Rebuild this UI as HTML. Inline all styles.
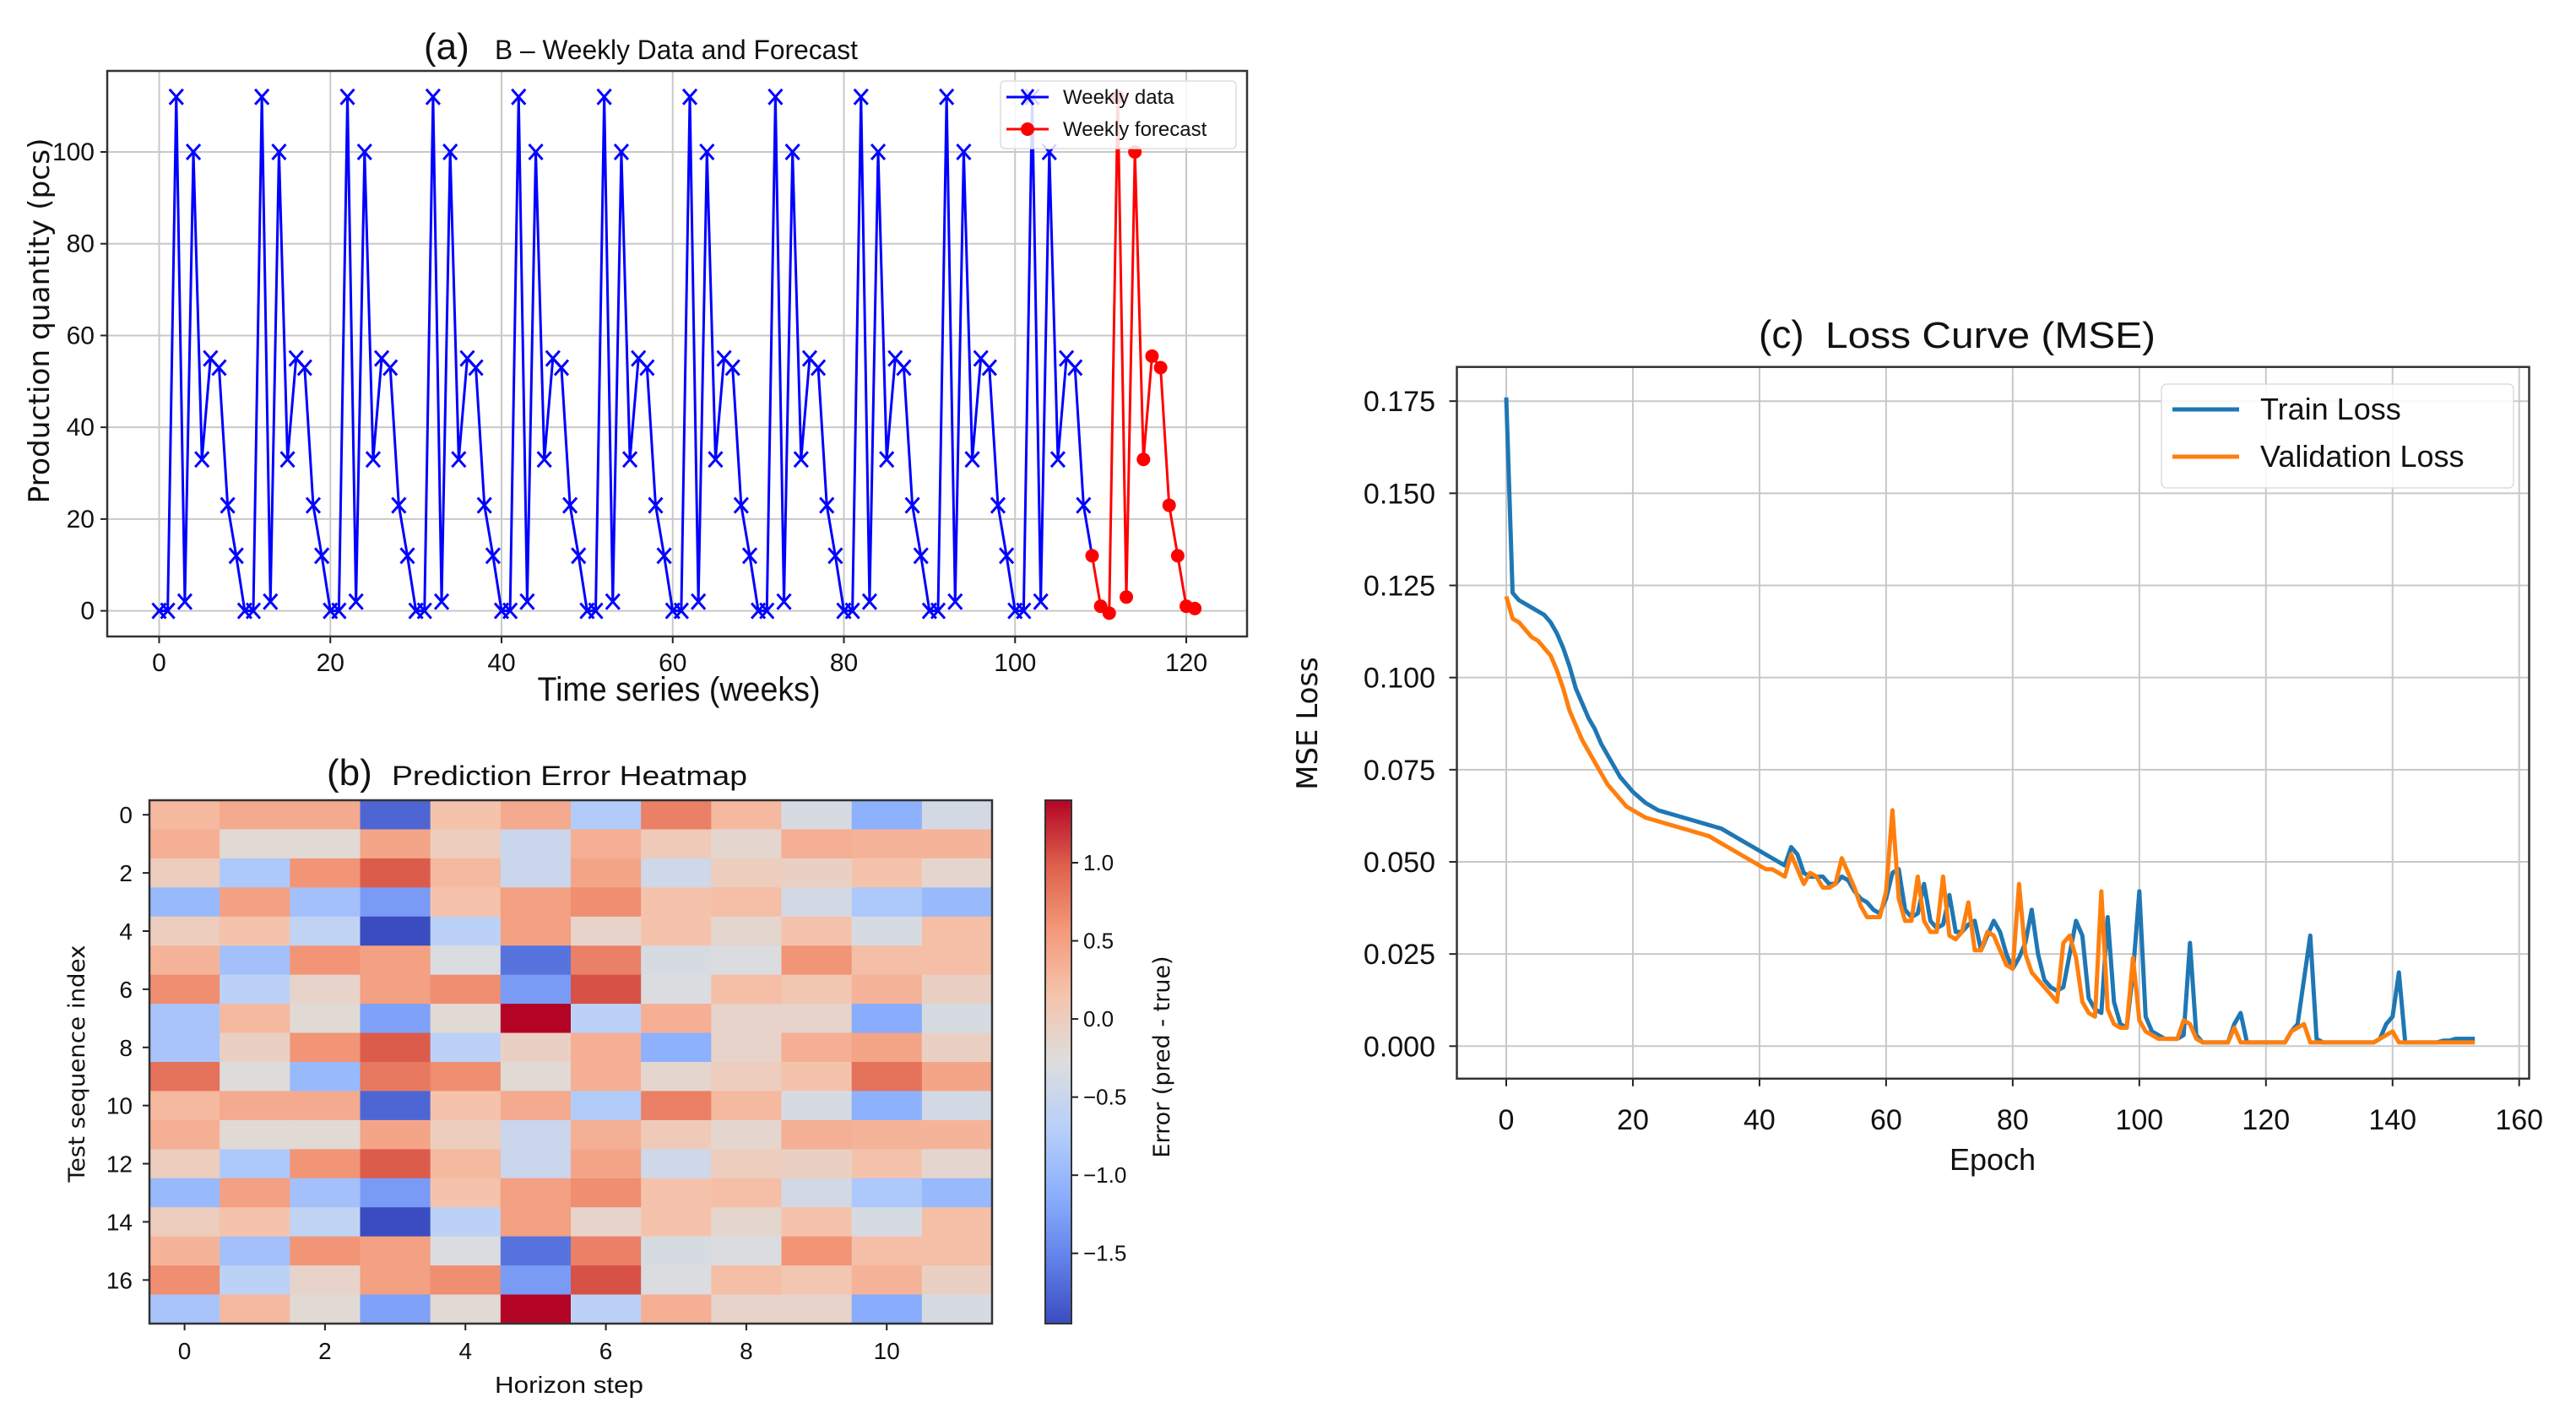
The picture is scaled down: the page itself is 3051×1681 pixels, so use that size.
<!DOCTYPE html>
<html><head><meta charset="utf-8">
<style>
html,body{margin:0;padding:0;background:#fff;}
svg{display:block;}
text{font-family:"Liberation Sans Narrow","Liberation Sans",sans-serif;fill:#111;}
</style></head>
<body>
<svg id="fig" width="3051" height="1681" viewBox="0 0 3051 1681" xmlns="http://www.w3.org/2000/svg">
<rect width="3051" height="1681" fill="#fff"/>
</svg>
<script>
// ---------- Panel (a) data ----------
const weeklyWeeks = [];
const weeklyValues = [0,0,112,2,100,33,55,53,23,12, 0,0,112,2,100,33,55,53,23,12, 0,0,112,2,100,33,55,53,23,12, 0,0,112,2,100,33,55,53,23,12, 0,0,112,2,100,33,55,53,23,12, 0,0,112,2,100,33,55,53,23,12, 0,0,112,2,100,33,55,53,23,12, 0,0,112,2,100,33,55,53,23,12, 0,0,112,2,100,33,55,53,23,12, 0,0,112,2,100,33,55,53,23,12, 0,0,112,2,100,33,55,53,23];
const forecastWeeks = [109,110,111,112,113,114,115,116,117,118,119,120,121];
const forecastValues = [12,1,-0.5,112,3,100,33,55.5,53,23,12,1,0.5];
const aXTicks = [0,20,40,60,80,100,120];
const aYTicks = [0,20,40,60,80,100];
// ---------- Panel (b) data ----------
const horizonSteps = [0,1,2,3,4,5,6,7,8,9,10,11];
const errorRows = [
[0.25,0.4,0.4,-1.75,0.15,0.4,-0.75,0.75,0.25,-0.35,-1.1,-0.4],
[0.35,-0.2,-0.2,0.45,0.0,-0.5,0.35,0.05,-0.15,0.35,0.3,0.3],
[0.0,-0.8,0.6,1.0,0.25,-0.5,0.45,-0.45,0.0,-0.05,0.15,-0.15],
[-1.0,0.5,-0.9,-1.3,0.15,0.5,0.65,0.15,0.2,-0.4,-0.8,-1.0],
[0.0,0.15,-0.6,-1.95,-0.65,0.5,-0.1,0.15,-0.15,0.15,-0.35,0.2],
[0.3,-0.9,0.6,0.5,-0.3,-1.65,0.75,-0.35,-0.3,0.6,0.2,0.2],
[0.65,-0.65,-0.1,0.5,0.65,-1.3,1.05,-0.3,0.2,0.1,0.3,-0.05],
[-0.85,0.25,-0.2,-1.25,-0.2,1.4,-0.65,0.35,-0.1,-0.1,-1.15,-0.35],
[-0.85,-0.05,0.6,1.0,-0.65,-0.05,0.35,-1.1,-0.1,0.35,0.45,-0.05],
[0.85,-0.25,-1.0,0.8,0.65,-0.2,0.35,-0.15,0.0,0.15,0.85,0.45],
[0.25,0.4,0.4,-1.75,0.15,0.4,-0.75,0.75,0.25,-0.35,-1.1,-0.4],
[0.35,-0.2,-0.2,0.45,0.0,-0.5,0.35,0.05,-0.15,0.35,0.3,0.3],
[0.0,-0.8,0.6,1.0,0.25,-0.5,0.45,-0.45,0.0,-0.05,0.15,-0.15],
[-1.0,0.5,-0.9,-1.3,0.15,0.5,0.65,0.15,0.2,-0.4,-0.8,-1.0],
[0.0,0.15,-0.6,-1.95,-0.65,0.5,-0.1,0.15,-0.15,0.15,-0.35,0.2],
[0.3,-0.9,0.6,0.5,-0.3,-1.65,0.75,-0.35,-0.3,0.6,0.2,0.2],
[0.65,-0.65,-0.1,0.5,0.65,-1.3,1.05,-0.3,0.2,0.1,0.3,-0.05],
[-0.85,0.25,-0.2,-1.25,-0.2,1.4,-0.65,0.35,-0.1,-0.1,-1.15,-0.35]
];
const bXTicks = [0,2,4,6,8,10];
const bYTicks = [0,2,4,6,8,10,12,14,16];
const cbarTicks = [1.0,0.5,0.0,-0.5,-1.0,-1.5];
const cbarLabels = ["1.0","0.5","0.0","−0.5","−1.0","−1.5"];
// ---------- Panel (c) data ----------
const trainLoss = [.176,.123,.121,.120,.119,.118,.117,.115,.112,.108,.103,.097,.093,.089,.086,.082,.079,.076,.073,.071,
.069,.0675,.066,.065,.064,.0635,.063,.0625,.062,.0615,.061,.0605,.060,.0595,.059,.058,.057,.056,.055,.054,
.053,.052,.051,.050,.049,.054,.052,.047,.046,.046,.046,.044,.044,.046,.045,.042,.040,.039,.037,.036,
.040,.047,.048,.037,.035,.036,.044,.034,.032,.033,.041,.031,.031,.033,.034,.026,.030,.034,.031,.025,
.021,.024,.028,.037,.025,.018,.016,.015,.016,.025,.034,.030,.013,.010,.009,.035,.012,.006,.005,.020,
.042,.008,.004,.003,.002,.002,.002,.003,.028,.003,.001,.001,.001,.001,.001,.006,.009,.001,.001,.001,
.001,.001,.001,.001,.004,.006,.018,.030,.002,.001,.001,.001,.001,.001,.001,.001,.001,.001,.002,.006,
.008,.020,.001,.001,.001,.001,.001,.001,.0015,.0015,.002,.002,.002,.002];
const valLoss = [.122,.116,.115,.113,.111,.110,.108,.106,.102,.097,.091,.087,.083,.080,.077,.074,.071,.069,.067,.065,
.064,.063,.062,.0615,.061,.0605,.060,.0595,.059,.0585,.058,.0575,.057,.056,.055,.054,.053,.052,.051,.050,
.049,.048,.048,.047,.046,.052,.048,.044,.047,.046,.043,.043,.044,.051,.047,.043,.038,.035,.035,.035,
.042,.064,.040,.034,.034,.046,.034,.031,.031,.046,.030,.029,.031,.039,.026,.026,.031,.030,.026,.022,
.021,.044,.025,.020,.018,.016,.014,.012,.028,.030,.024,.012,.009,.008,.042,.010,.006,.005,.005,.024,
.007,.004,.003,.002,.002,.002,.002,.007,.006,.002,.001,.001,.001,.001,.001,.005,.001,.001,.001,.001,
.001,.001,.001,.001,.004,.005,.006,.001,.001,.001,.001,.001,.001,.001,.001,.001,.001,.001,.002,.003,
.004,.001,.001,.001,.001,.001,.001,.001,.001,.001,.001,.001,.001,.001];
const cXTicks = [0,20,40,60,80,100,120,140,160];
const cYTicks = [0,0.025,0.05,0.075,0.1,0.125,0.15,0.175];
const cYLabels = ["0.000","0.025","0.050","0.075","0.100","0.125","0.150","0.175"];

for (let i=0;i<weeklyValues.length;i++) weeklyWeeks.push(i);

const NS="http://www.w3.org/2000/svg";
const fig=document.getElementById('fig');
function mk(tag,attrs,parent,txt){const e=document.createElementNS(NS,tag);for(const k in attrs)e.setAttribute(k,attrs[k]);if(txt!==undefined)e.textContent=txt;(parent||fig).appendChild(e);return e;}

// ===== Panel A =====
const ax=v=>188.5+(v/120)*(1405-188.5);
const ay=v=>723.6-(v/100)*(723.6-180);
const gA=mk('g',{});


aXTicks.forEach(t=>{const l=mk('line',{x1:ax(t),x2:ax(t),y1:84,y2:754,stroke:'#c8c8c8','stroke-width':2},gA);
 mk('line',{x1:ax(t),x2:ax(t),y1:754,y2:762,stroke:'#222','stroke-width':2},gA);
 const tx=mk('text',{x:ax(t),y:795,'font-size':30,'text-anchor':'middle'},gA,String(t));});
aYTicks.forEach(t=>{const l=mk('line',{x1:127,x2:1477,y1:ay(t),y2:ay(t),stroke:'#c8c8c8','stroke-width':2},gA);
 mk('line',{x1:119,x2:127,y1:ay(t),y2:ay(t),stroke:'#222','stroke-width':2},gA);
 const tx=mk('text',{x:112,y:ay(t)+10,'font-size':30,'text-anchor':'end'},gA,String(t));});
let ptsB=weeklyWeeks.map((w,i)=>ax(w)+','+ay(weeklyValues[i])).join(' ');
ptsB+=' '+ax(forecastWeeks[0])+','+ay(forecastValues[0]);
const pl=mk('polyline',{points:ptsB,fill:'none',stroke:'#0000ff','stroke-width':3},gA);

weeklyWeeks.forEach((w,i)=>{const x=ax(w),y=ay(weeklyValues[i]);const p=mk('path',{d:`M${x-8} ${y-9}L${x+8} ${y+9}M${x-8} ${y+9}L${x+8} ${y-9}`,stroke:'#0000ff','stroke-width':3},gA);
 });
const pr=mk('polyline',{points:forecastWeeks.map((w,i)=>ax(w)+','+ay(forecastValues[i])).join(' '),fill:'none',stroke:'#ff0000','stroke-width':3},gA);

forecastWeeks.forEach((w,i)=>{const c=mk('circle',{cx:ax(w),cy:ay(forecastValues[i]),r:8,fill:'#ff0000'},gA);});
mk('rect',{x:127,y:84,width:1350,height:670,fill:'none',stroke:'#333','stroke-width':2.5},gA);
const lgA=mk('g',{},gA);
mk('rect',{x:1185,y:96,width:279,height:80,rx:5,fill:'#fff','fill-opacity':0.85,stroke:'#ddd','stroke-width':1.5},lgA);
mk('line',{x1:1192,x2:1242,y1:115,y2:115,stroke:'#0000ff','stroke-width':3},lgA);
mk('path',{d:'M1210 106L1224 124M1210 124L1224 106',stroke:'#0000ff','stroke-width':3},lgA);
mk('text',{x:1259,y:123,'font-size':24},lgA,'Weekly data');
mk('line',{x1:1192,x2:1242,y1:153,y2:153,stroke:'#ff0000','stroke-width':3},lgA);
mk('circle',{cx:1217,cy:153,r:8,fill:'#ff0000'},lgA);
mk('text',{x:1259,y:161,'font-size':24},lgA,'Weekly forecast');
let t;
t=mk('text',{x:502,y:70,'font-size':44},fig,'(a)');
t=mk('text',{x:586,y:70,'font-size':32,textLength:430,lengthAdjust:'spacingAndGlyphs'},fig,'B – Weekly Data and Forecast');
t=mk('text',{x:804,y:830,'font-size':40,'text-anchor':'middle',textLength:335,lengthAdjust:'spacingAndGlyphs'},fig,'Time series (weeks)');
t=mk('text',{x:0,y:0,'font-size':34,'text-anchor':'middle',transform:'translate(58,380) rotate(-90)',textLength:433,lengthAdjust:'spacingAndGlyphs',style:'font-family:"DejaVu Sans",sans-serif'},fig,'Production quantity (pcs)');

// ===== Panel B =====
const cmapStops=[[59,76,192],[98,130,234],[141,176,254],[184,208,249],[221,221,221],[245,196,173],[244,154,123],[222,96,77],[180,4,38]];
const vmin=-1.95,vmax=1.4;
function cmap(v){let tt=(v-vmin)/(vmax-vmin);tt=Math.max(0,Math.min(1,tt));const p=tt*8;const i=Math.min(7,Math.floor(p));const f=p-i;const a=cmapStops[i],b=cmapStops[i+1];return `rgb(${Math.round(a[0]+(b[0]-a[0])*f)},${Math.round(a[1]+(b[1]-a[1])*f)},${Math.round(a[2]+(b[2]-a[2])*f)})`;}
const hx0=177,hx1=1175,hy0=948,hy1=1568;
const cw=(hx1-hx0)/horizonSteps.length,ch=(hy1-hy0)/errorRows.length;
const bx=c=>hx0+(c+0.5)*cw, by=r=>hy0+(r+0.5)*ch;
const gB=mk('g',{});
errorRows.forEach((row,r)=>row.forEach((v,c)=>{const re=mk('rect',{x:bx(c)-cw/2,y:by(r)-ch/2,width:cw+0.6,height:ch+0.6,fill:cmap(v)},gB);}));
mk('rect',{x:hx0,y:hy0,width:hx1-hx0,height:hy1-hy0,fill:'none',stroke:'#333','stroke-width':2.5},gB);
bXTicks.forEach(v=>{mk('line',{x1:bx(v),x2:bx(v),y1:hy1,y2:hy1+8,stroke:'#222','stroke-width':2},gB);const tx=mk('text',{x:bx(v),y:1610,'font-size':28,'text-anchor':'middle'},gB,String(v));});
bYTicks.forEach(v=>{mk('line',{x1:hx0-8,x2:hx0,y1:by(v),y2:by(v),stroke:'#222','stroke-width':2},gB);const tx=mk('text',{x:157,y:by(v)+10,'font-size':28,'text-anchor':'end'},gB,String(v));});
const gC=mk('g',{});
const defs=mk('defs',{},fig);const lg=mk('linearGradient',{id:'cw',x1:0,y1:1,x2:0,y2:0},defs);
cmapStops.forEach((s,i)=>mk('stop',{offset:(i/8),'stop-color':`rgb(${s[0]},${s[1]},${s[2]})`},lg));
mk('rect',{x:1238,y:hy0,width:31,height:hy1-hy0,fill:'url(#cw)',stroke:'#333','stroke-width':2},gC);
const cy=v=>hy0+(vmax-v)/(vmax-vmin)*(hy1-hy0);
cbarTicks.forEach((v,i)=>{mk('line',{x1:1269,x2:1277,y1:cy(v),y2:cy(v),stroke:'#222','stroke-width':2},gC);const tx=mk('text',{x:1283,y:cy(v)+9,'font-size':26},gC,cbarLabels[i]);});
t=mk('text',{x:0,y:0,'font-size':27,'text-anchor':'middle',transform:'translate(1385,1252) rotate(-90)',style:'font-family:"DejaVu Sans",sans-serif'},fig,'Error (pred - true)');
t=mk('text',{x:387,y:930,'font-size':44},fig,'(b)');
t=mk('text',{x:464,y:930,'font-size':32,textLength:421,lengthAdjust:'spacingAndGlyphs'},fig,'Prediction Error Heatmap');
t=mk('text',{x:674,y:1650,'font-size':28,'text-anchor':'middle',textLength:176,lengthAdjust:'spacingAndGlyphs'},fig,'Horizon step');
t=mk('text',{x:0,y:0,'font-size':27,'text-anchor':'middle',transform:'translate(100,1260) rotate(-90)',textLength:281,lengthAdjust:'spacingAndGlyphs',style:'font-family:"DejaVu Sans",sans-serif'},fig,'Test sequence index');

// ===== Panel C =====
const L=1725.5,R=2995.5,T=434.7,B=1277.8;
const cxs=v=>1784+(v/160)*(2983.7-1784);
const cys=v=>1239.3-(v/0.175)*(1239.3-475.2);
const gL=mk('g',{});
cXTicks.forEach(v=>{const l=mk('line',{x1:cxs(v),x2:cxs(v),y1:T,y2:B,stroke:'#c8c8c8','stroke-width':2},gL);
 mk('line',{x1:cxs(v),x2:cxs(v),y1:B,y2:B+9,stroke:'#222','stroke-width':2},gL);
 const tx=mk('text',{x:cxs(v),y:1338,'font-size':34,'text-anchor':'middle'},gL,String(v));});
cYTicks.forEach((v,i)=>{const l=mk('line',{x1:L,x2:R,y1:cys(v),y2:cys(v),stroke:'#c8c8c8','stroke-width':2},gL);
 mk('line',{x1:L-9,x2:L,y1:cys(v),y2:cys(v),stroke:'#222','stroke-width':2},gL);
 const tx=mk('text',{x:1700,y:cys(v)+12,'font-size':34,'text-anchor':'end'},gL,cYLabels[i]);});
const tl=mk('polyline',{points:trainLoss.map((v,i)=>cxs(i)+','+cys(v)).join(' '),fill:'none',stroke:'#1f77b4','stroke-width':5,'stroke-linejoin':'round'},gL);

const vl=mk('polyline',{points:valLoss.map((v,i)=>cxs(i)+','+cys(v)).join(' '),fill:'none',stroke:'#ff7f0e','stroke-width':5,'stroke-linejoin':'round'},gL);

mk('rect',{x:L,y:T,width:R-L,height:B-T,fill:'none',stroke:'#333','stroke-width':2.5},gL);
const lgC=mk('g',{},gL);
mk('rect',{x:2560,y:455,width:417,height:123,rx:6,fill:'#fff','fill-opacity':0.85,stroke:'#ddd','stroke-width':1.5},lgC);
mk('line',{x1:2573,x2:2652,y1:485,y2:485,stroke:'#1f77b4','stroke-width':5},lgC);
mk('text',{x:2677,y:497,'font-size':36},lgC,'Train Loss');
mk('line',{x1:2573,x2:2652,y1:541,y2:541,stroke:'#ff7f0e','stroke-width':5},lgC);
mk('text',{x:2677,y:553,'font-size':36},lgC,'Validation Loss');
t=mk('text',{x:2083,y:412,'font-size':46},fig,'(c)');
t=mk('text',{x:2162,y:412,'font-size':44,textLength:391,lengthAdjust:'spacingAndGlyphs'},fig,'Loss Curve (MSE)');
t=mk('text',{x:2360,y:1386,'font-size':36,'text-anchor':'middle'},fig,'Epoch');
t=mk('text',{x:0,y:0,'font-size':34,'text-anchor':'middle',transform:'translate(1560,857) rotate(-90)',style:'font-family:"DejaVu Sans",sans-serif'},fig,'MSE Loss');
</script>
</body></html>
